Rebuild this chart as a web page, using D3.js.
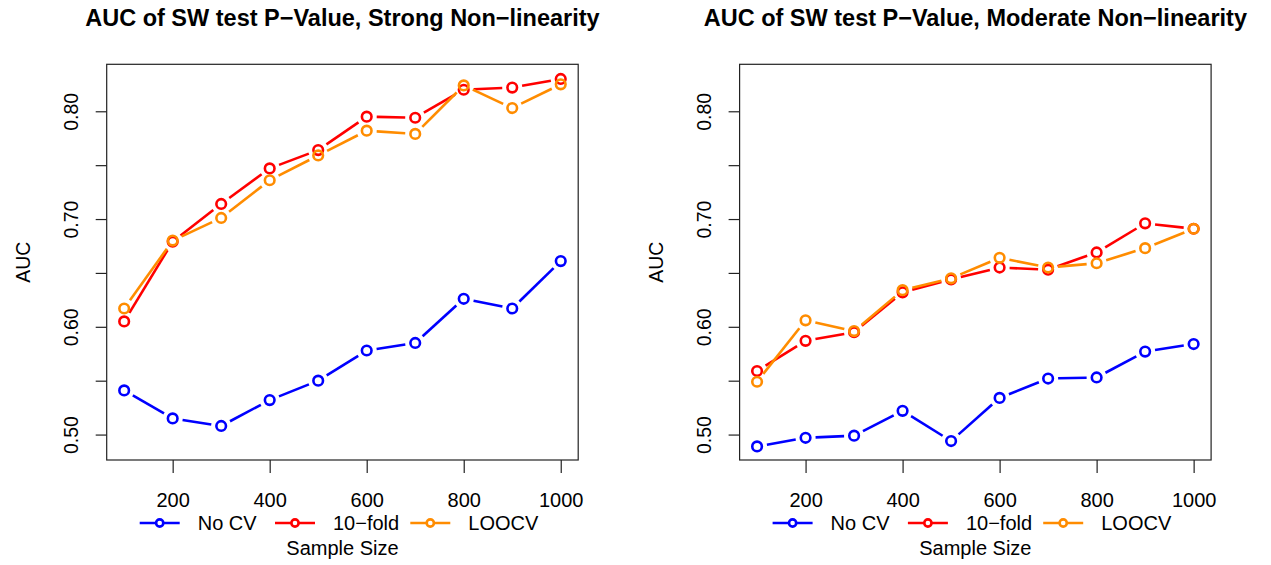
<!DOCTYPE html>
<html>
<head>
<meta charset="utf-8">
<script src="https://cdn.jsdelivr.net/npm/d3@7"></script>
<style>
  html, body { margin: 0; padding: 0; background: #ffffff; }
  svg { display: block; }
  text { font-family: "Liberation Sans", Arial, Helvetica, sans-serif; fill: #000; }
</style>
</head>
<body>
<svg id="chart" width="1271" height="565"></svg>
<script>
// Sample sizes on the x axis
const sampleSizes = [100, 200, 300, 400, 500, 600, 700, 800, 900, 1000];

// Strong non-linearity panel
const strongNoCV   = [0.541, 0.515, 0.508, 0.532, 0.550, 0.578, 0.585, 0.626, 0.617, 0.661];
const strongTenFold = [0.605, 0.679, 0.714, 0.747, 0.764, 0.795, 0.794, 0.820, 0.822, 0.830];
const strongLOOCV  = [0.617, 0.680, 0.701, 0.736, 0.759, 0.782, 0.779, 0.824, 0.803, 0.825];

// Moderate non-linearity panel
const modNoCV   = [0.489, 0.497, 0.499, 0.522, 0.494, 0.534, 0.552, 0.553, 0.577, 0.584];
const modTenFold = [0.559, 0.587, 0.595, 0.632, 0.644, 0.655, 0.653, 0.669, 0.696, 0.691];
const modLOOCV  = [0.549, 0.606, 0.596, 0.634, 0.645, 0.664, 0.655, 0.659, 0.673, 0.691];

// Axis ticks and labels
const xTicks = [200, 400, 600, 800, 1000];
const yTicks = [0.50, 0.55, 0.60, 0.65, 0.70, 0.75, 0.80];
const yTickLabels = [0.50, 0.60, 0.70, 0.80];

const seriesNames = ["No CV", "10\u2212fold", "LOOCV"];
const seriesColors = ["#0000ff", "#ff0000", "#ff8c00"];

const panelTitles = [
  "AUC of SW test P\u2212Value, Strong Non\u2212linearity",
  "AUC of SW test P\u2212Value, Moderate Non\u2212linearity"
];
const panelSeries = [
  [strongNoCV, strongTenFold, strongLOOCV],
  [modNoCV, modTenFold, modLOOCV]
];

// Data limits, extended by 4% on each side as in base graphics
const xLim = [100, 1000];
const yLim = [0.49, 0.83];
function pad(l) { const d = (l[1] - l[0]) * 0.04; return [l[0] - d, l[1] + d]; }

const svg = d3.select("#chart");
const panels = [
  { left: 106.7, right: 578.2, top: 64.3, bottom: 460 },
  { left: 739.6, right: 1211.1, top: 64.3, bottom: 460 }
];

const lineW = 2.6;
const gap = 10;
const FONT = "Liberation Sans, Arial, sans-serif";

panels.forEach((p, pi) => {
  const x = d3.scaleLinear().domain(pad(xLim)).range([p.left, p.right]);
  const y = d3.scaleLinear().domain(pad(yLim)).range([p.bottom, p.top]);
  const g = svg.append("g");
  const cx = (p.left + p.right) / 2;

  // Title
  g.append("text")
    .attr("x", cx).attr("y", 26)
    .attr("text-anchor", "middle")
    .style("font-weight", "bold").style("font-size", "23.5px")
    .text(panelTitles[pi]);

  // Series: line segments broken around each point, then open circles
  panelSeries[pi].forEach((vals, si) => {
    const pts = sampleSizes.map((s, i) => [x(s), y(vals[i])]);
    const segs = [];
    for (let i = 0; i < pts.length - 1; i++) {
      const [x0, y0] = pts[i], [x1, y1] = pts[i + 1];
      const len = Math.hypot(x1 - x0, y1 - y0);
      if (len > 2 * gap) {
        const ux = (x1 - x0) / len, uy = (y1 - y0) / len;
        segs.push([x0 + ux * gap, y0 + uy * gap, x1 - ux * gap, y1 - uy * gap]);
      }
    }
    g.append("g").selectAll("line").data(segs).join("line")
      .attr("x1", d => d[0]).attr("y1", d => d[1])
      .attr("x2", d => d[2]).attr("y2", d => d[3])
      .attr("stroke", seriesColors[si]).attr("stroke-width", lineW);
    g.append("g").selectAll("circle").data(pts).join("circle")
      .attr("cx", d => d[0]).attr("cy", d => d[1]).attr("r", 4.8)
      .attr("fill", "none").attr("stroke", seriesColors[si]).attr("stroke-width", lineW);
  });

  // Plot frame
  g.append("rect")
    .attr("x", p.left).attr("y", p.top)
    .attr("width", p.right - p.left).attr("height", p.bottom - p.top)
    .attr("fill", "none").attr("stroke", "#222").attr("stroke-width", 1.2);

  // Bottom axis
  const xAxis = d3.axisBottom(x).tickValues(xTicks).tickSize(13).tickPadding(0).tickFormat(d3.format("d"));
  const xg = g.append("g").attr("transform", `translate(0,${p.bottom})`).call(xAxis);
  xg.select(".domain").remove();
  xg.selectAll(".tick line").attr("stroke", "#222").attr("stroke-width", 1.2);
  xg.selectAll(".tick text")
    .attr("y", 47).attr("dy", null)
    .style("font-size", "20px").style("font-family", FONT).attr("fill", "#000");

  // Left axis
  const yAxis = d3.axisLeft(y).tickValues(yTicks).tickSize(11)
    .tickFormat(d => yTickLabels.some(v => Math.abs(v - d) < 1e-9) ? d3.format(".2f")(d) : "");
  const yg = g.append("g").attr("transform", `translate(${p.left},0)`).call(yAxis);
  yg.select(".domain").remove();
  yg.selectAll(".tick line").attr("stroke", "#222").attr("stroke-width", 1.2);
  yg.selectAll(".tick text")
    .attr("x", null).attr("dy", null)
    .attr("transform", "translate(-28.5,0) rotate(-90)")
    .attr("text-anchor", "middle")
    .style("font-size", "19.5px").style("font-family", FONT).attr("fill", "#000");

  // Y axis title
  g.append("text")
    .attr("transform", `translate(${p.left - 77},${(p.top + p.bottom) / 2}) rotate(-90)`)
    .attr("text-anchor", "middle")
    .style("font-size", "19.5px")
    .text("AUC");

  // X axis title
  g.append("text")
    .attr("x", cx).attr("y", 555)
    .attr("text-anchor", "middle")
    .style("font-size", "20px")
    .text("Sample Size");

  // Legend
  const legY = 523;
  const leg = g.append("g").selectAll("g").data(seriesNames).join("g")
    .attr("transform", (d, i) => `translate(${p.left + 33 + i * 135.3},${legY})`);
  leg.append("line").attr("x1", 0).attr("x2", 40).attr("y1", 0).attr("y2", 0)
    .attr("stroke", (d, i) => seriesColors[i]).attr("stroke-width", lineW);
  leg.append("circle").attr("cx", 20).attr("cy", 0).attr("r", 3.6)
    .attr("fill", "#fff").attr("stroke", (d, i) => seriesColors[i]).attr("stroke-width", lineW);
  leg.append("text").attr("x", 58).attr("y", 7)
    .style("font-size", "20px")
    .text(d => d);
});
</script>
</body>
</html>
